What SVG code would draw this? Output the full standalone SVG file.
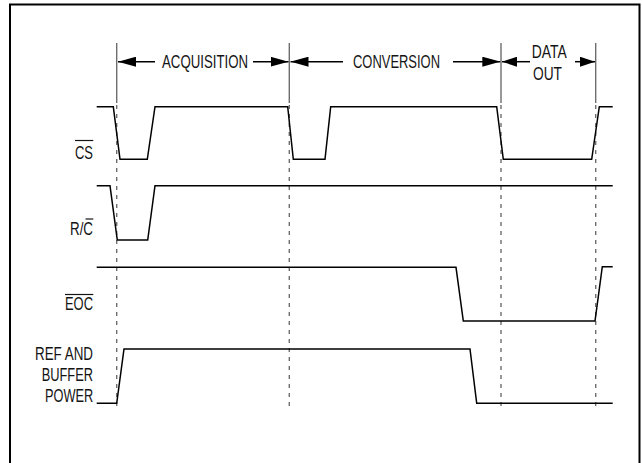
<svg xmlns="http://www.w3.org/2000/svg" width="642" height="463" viewBox="0 0 642 463">
<style>
.t{font-family:"Liberation Sans",Arial,sans-serif;font-size:18px;fill:#141414}
.w{fill:none;stroke:#000;stroke-width:1.5;stroke-linejoin:miter}
.g{stroke:#6e6e6e;stroke-width:1.4;fill:none}
.d{stroke:#6e6e6e;stroke-width:1.4;fill:none;stroke-dasharray:4 5}
.a{stroke:#000;stroke-width:1.5}
.o{stroke:#141414;stroke-width:1.2}
</style>
<defs>
<marker id="ah" viewBox="0 0 18 10" refX="18" refY="5" markerWidth="18" markerHeight="10" markerUnits="userSpaceOnUse" orient="auto-start-reverse">
<path d="M0,0 L18,5 L0,10 Z" fill="#000"/>
</marker>
<marker id="ahs" viewBox="0 0 15 10" refX="15" refY="5" markerWidth="15" markerHeight="10" markerUnits="userSpaceOnUse" orient="auto-start-reverse">
<path d="M0,0 L15,5 L0,10 Z" fill="#000"/>
</marker>
</defs>
<rect width="642" height="463" fill="#fff"/>
<rect x="10" y="4.5" width="629.5" height="480" fill="none" stroke="#000" stroke-width="2"/>

<g id="guides">
<line class="g" x1="116.7" y1="43" x2="116.7" y2="103"/>
<line class="d" x1="116.7" y1="105" x2="116.7" y2="407"/>
<line class="g" x1="289.3" y1="43" x2="289.3" y2="103"/>
<line class="d" x1="289.3" y1="105" x2="289.3" y2="407"/>
<line class="g" x1="501" y1="43" x2="501" y2="103"/>
<line class="d" x1="501" y1="105" x2="501" y2="407"/>
<line class="g" x1="595.7" y1="43" x2="595.7" y2="103"/>
<line class="d" x1="595.7" y1="105" x2="595.7" y2="407"/>
</g>

<g id="connectors">
<line class="a" x1="155" y1="61.7" x2="118" y2="61.7" marker-end="url(#ah)"/>
<line class="a" x1="253" y1="61.7" x2="288.5" y2="61.7" marker-end="url(#ah)"/>
<line class="a" x1="343" y1="61.7" x2="290.5" y2="61.7" marker-end="url(#ah)"/>
<line class="a" x1="453" y1="61.7" x2="500.3" y2="61.7" marker-end="url(#ah)"/>
<line class="a" x1="530" y1="61.7" x2="502" y2="61.7" marker-end="url(#ahs)"/>
<line class="a" x1="575" y1="61.7" x2="595" y2="61.7" marker-end="url(#ahs)"/>
</g>

<g id="phase-labels">
<text class="t" x="162" y="67.5" textLength="86" lengthAdjust="spacingAndGlyphs">ACQUISITION</text>
<text class="t" x="353" y="67.5" textLength="87" lengthAdjust="spacingAndGlyphs">CONVERSION</text>
<text class="t" x="531.7" y="57.5" textLength="35" lengthAdjust="spacingAndGlyphs">DATA</text>
<text class="t" x="533" y="79.5" textLength="29" lengthAdjust="spacingAndGlyphs">OUT</text>
</g>

<g id="sig-cs">
<text class="t" x="75" y="158.5" textLength="18" lengthAdjust="spacingAndGlyphs">CS</text>
<line class="o" x1="75" y1="140.5" x2="93.3" y2="140.5"/>
<path class="w" d="M96.7,106.7 H113.3 L120,159.3 H147.3 L155,106.7 H287.7 L293.3,159.3 H325 L330.7,106.7 H496.7 L503.3,159.3 H591.7 L599.3,106.7 H612.7"/>
</g>

<g id="sig-rc">
<text class="t" x="70" y="234.5" textLength="23" lengthAdjust="spacingAndGlyphs">R/C</text>
<line class="o" x1="85.5" y1="219" x2="93.3" y2="219"/>
<path class="w" d="M96.7,185.7 H110 L117.3,240 H147.7 L155,185.7 H612.7"/>
</g>

<g id="sig-eoc">
<text class="t" x="65" y="310" textLength="28" lengthAdjust="spacingAndGlyphs">EOC</text>
<line class="o" x1="65" y1="294.5" x2="93.3" y2="294.5"/>
<path class="w" d="M96.7,267.3 H456 L463.3,321 H595 L602.3,266.7 H612.7"/>
</g>

<g id="sig-ref">
<text class="t" x="35" y="359.5" textLength="58" lengthAdjust="spacingAndGlyphs">REF AND</text>
<text class="t" x="41.7" y="381" textLength="51.3" lengthAdjust="spacingAndGlyphs">BUFFER</text>
<text class="t" x="45" y="402" textLength="48.3" lengthAdjust="spacingAndGlyphs">POWER</text>
<path class="w" d="M96.7,403.3 H116.7 L124,349 H470 L476.7,403.3 H612.7"/>
</g>
</svg>
